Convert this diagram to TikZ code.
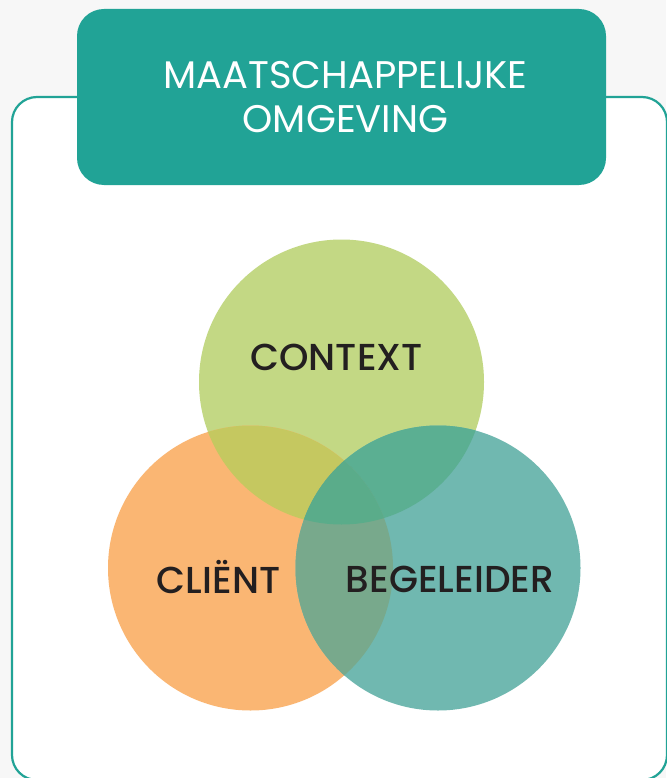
\documentclass[tikz,border=0pt]{standalone}
\usepackage{fontspec}
\setmainfont{Poppins}
\newfontfamily\popmed{Poppins Medium}
\definecolor{bg}{HTML}{F7F7F7}
\definecolor{tealc}{HTML}{21A396}
\definecolor{ctx}{HTML}{C3D884}
\definecolor{cli}{HTML}{FAB673}
\definecolor{beg}{HTML}{70B8B0}
\definecolor{ctxcli}{HTML}{C5C860}
\definecolor{ctxbeg}{HTML}{5BAF92}
\definecolor{clibeg}{HTML}{78A98C}
\definecolor{allthree}{HTML}{5AAC8A}
\definecolor{ink}{HTML}{231F20}
\tikzset{
  venn/.style={circle, minimum size=285pt, inner sep=0pt, draw=none},
  vlabel/.style={text=ink, font=\popmed\fontsize{37.5}{44}\selectfont, inner sep=0pt},
  htext/.style={text=white, font=\fontsize{38.5}{44}\selectfont, align=center, inner sep=0pt}
}
\begin{document}
\begin{tikzpicture}[x=1pt,y=-1pt]
\useasboundingbox (0,0) rectangle (666,778);
\fill[bg] (0,0) rectangle (666,778);
\draw[tealc, line width=2.2pt, fill=white, rounded corners=25pt] (12,97) rectangle (667,780);
\node[fill=tealc, rounded corners=27pt, minimum width=529pt, minimum height=176pt, inner sep=0pt] (header) at (341.5,97) {};
\node[htext] (htitle) at (345.5,97) {MAATSCHAPPELIJKE\\OMGEVING};
% circles
\node[venn, fill=ctx] (context) at (341.5,382) {};
\node[venn, fill=cli] (client) at (250.5,568) {};
\node[venn, fill=beg] (begeleider) at (438,568) {};
\begin{scope}
  \clip (341.5,382) circle (142.5pt);
  \fill[ctxcli] (250.5,568) circle (142.5pt);
  \fill[ctxbeg] (438,568) circle (142.5pt);
\end{scope}
\begin{scope}
  \clip (250.5,568) circle (142.5pt);
  \fill[clibeg] (438,568) circle (142.5pt);
  \clip (438,568) circle (142.5pt);
  \fill[allthree] (341.5,382) circle (142.5pt);
\end{scope}
\node[vlabel] (lctx) at (336.5,357) {CONTEXT};
\node[vlabel] (lcli) at (218.5,577) {CLIËNT};
\node[vlabel] (lbeg) at (450,579) {BEGELEIDER};
\end{tikzpicture}
\end{document}
